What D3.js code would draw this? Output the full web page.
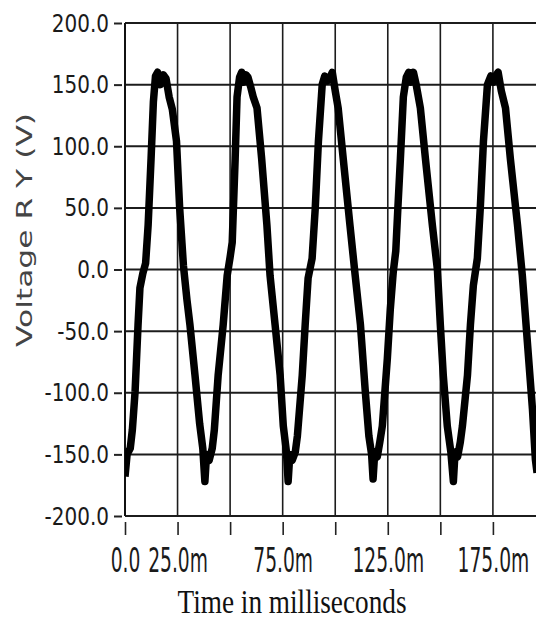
<!DOCTYPE html>
<html>
<head>
<meta charset="utf-8">
<script src="https://cdn.jsdelivr.net/npm/d3@7"></script>
<style>
  body { margin: 0; background: #fff; }
</style>
</head>
<body>
<div id="chart"></div>
<script>
// Axis ticks
const yTicks = [-200, -150, -100, -50, 0, 50, 100, 150, 200];
const xTicks = [0, 25, 50, 75, 100, 125, 150, 175];
const xLabelled = [0, 25, 75, 125, 175]; // 50, 100, 150 have no label

// Trace: [time ms, voltage V]
const trace = [
  [0, -168], [1, -150], [2.5, -145], [3.5, -130], [4.8, -99], [6.2, -45], [7.1, -15],
  [8.5, -3], [9.8, 5], [11, 36], [12.4, 90], [13.5, 136], [14.5, 157], [15.5, 160],
  [16.8, 150], [18.2, 158], [19.5, 155], [21, 140], [22.5, 130], [24.5, 104], [26, 50],
  [27.8, 3], [29.5, -25], [30.9, -45], [33.3, -86], [35.5, -125], [37, -145], [38, -172],
  [38.8, -150], [40, -155], [41.5, -145], [42.5, -130], [44.3, -86], [46.7, -45],
  [48.6, -5], [50, 10], [51, 22], [52.4, 90], [53.3, 140], [54.5, 156],
  [55.5, 160], [56.5, 152], [57.5, 158], [58.5, 156], [59.8, 148], [61, 140], [62.8, 131],
  [65, 90], [67.5, 36], [69, -5], [71.4, -45], [73.8, -86], [75.3, -127], [76.8, -148],
  [77.6, -172], [78.4, -150], [79.5, -155], [81, -148], [82, -135], [84.3, -86],
  [85.7, -45], [87.1, -7], [89, 9], [90.5, 50], [92, 104], [93.8, 150], [95, 157],
  [96.2, 153], [97.5, 156], [98.6, 160], [100, 145], [101.4, 131], [103.8, 90], [107, 36],
  [109.5, -5], [112, -45], [114.3, -99], [116, -135], [117.3, -150], [118, -170],
  [118.8, -148], [120, -152], [121.2, -140], [122.4, -127], [124.8, -72], [126.2, -32],
  [127.6, -2], [128.8, 15], [129.8, 50], [131, 90], [132.4, 140], [133.8, 156], [135, 160],
  [136, 152], [137.2, 160], [138.5, 150], [140.5, 131], [142.9, 90], [146.2, 36],
  [148.6, 0], [150, -45], [151.4, -86], [153.3, -127], [155, -148], [156.2, -172],
  [157, -148], [158.2, -152], [159.5, -140], [160.5, -127], [162.9, -86], [164.3, -45],
  [165.7, -13], [167.6, 9], [169, 50], [170.5, 104], [172.4, 150], [174, 157],
  [175.2, 152], [176.2, 157], [177.5, 160], [179, 145], [181, 131], [183.3, 90],
  [186.7, 36], [189, -5], [191.4, -59], [193.8, -113], [195.2, -154], [196, -165]
];

const width = 536;
const height = 626;
const plotLeft = 125, plotRight = 536, plotTop = 22, plotBottom = 517;

const x = d3.scaleLinear().domain([0, 195.5]).range([plotLeft, plotRight]);
const y = d3.scaleLinear().domain([-200, 200]).range([516, 23]);

const svg = d3
  .select("#chart")
  .append("svg")
  .attr("width", width)
  .attr("height", height);

svg.append("defs").append("clipPath").attr("id", "plot")
  .append("rect")
  .attr("x", plotLeft).attr("y", plotTop)
  .attr("width", plotRight - plotLeft).attr("height", plotBottom - plotTop);

// Grid
svg.append("g")
  .selectAll("line")
  .data(xTicks.slice(1))
  .enter()
  .append("line")
  .attr("x1", (d) => x(d)).attr("x2", (d) => x(d))
  .attr("y1", y(200)).attr("y2", y(-200))
  .attr("stroke", "#1c1c1c")
  .attr("stroke-width", 1.6);

svg.append("g")
  .selectAll("line")
  .data(yTicks)
  .enter()
  .append("line")
  .attr("x1", plotLeft).attr("x2", plotRight)
  .attr("y1", (d) => y(d)).attr("y2", (d) => y(d))
  .attr("stroke", "#1c1c1c")
  .attr("stroke-width", 2);

// Left border
svg.append("line")
  .attr("x1", plotLeft).attr("x2", plotLeft)
  .attr("y1", y(200)).attr("y2", y(-200))
  .attr("stroke", "#111")
  .attr("stroke-width", 2);

// Trace
svg.append("path")
  .datum(trace)
  .attr("clip-path", "url(#plot)")
  .attr("fill", "none")
  .attr("stroke", "#000")
  .attr("stroke-width", 7.5)
  .attr("stroke-linejoin", "round")
  .attr("d", d3.line().x((d) => x(d[0])).y((d) => y(d[1])));

// Y axis
const ySx = 0.8;
const yAxis = svg.append("g")
  .attr("transform", `translate(${plotLeft},0)`)
  .call(d3.axisLeft(y).tickValues(yTicks).tickSize(11).tickPadding(4).tickFormat((d) => d.toFixed(1)));
yAxis.select(".domain").remove();
yAxis.selectAll(".tick line").attr("x1", -3).attr("x2", -11).attr("stroke", "#222").attr("stroke-width", 2);
yAxis.selectAll(".tick text")
  .attr("x", -16 / ySx)
  .attr("transform", `scale(${ySx},1)`)
  .style("font-family", "DejaVu Sans, Verdana, sans-serif")
  .style("font-size", "25px")
  .attr("fill", "#1a1a1a");

// X axis
const xSx = 0.55;
const xAxis = svg.append("g")
  .attr("transform", `translate(0,${plotBottom})`)
  .call(d3.axisBottom(x).tickValues(xTicks).tickSize(18)
    .tickFormat((d) => (xLabelled.includes(d) ? (d === 0 ? "0.0" : d.toFixed(1) + "m") : "")));
xAxis.select(".domain").remove();
xAxis.selectAll(".tick line").attr("y1", 5).attr("y2", 18).attr("stroke", "#222").attr("stroke-width", 1.6);
xAxis.selectAll(".tick text")
  .attr("y", 31)
  .attr("transform", `scale(${xSx},1)`)
  .style("font-family", "DejaVu Sans, Verdana, sans-serif")
  .style("font-size", "34px")
  .attr("fill", "#1a1a1a");

// Axis titles
svg.append("text")
  .attr("transform", "translate(32,230) rotate(-90)")
  .attr("text-anchor", "middle")
  .attr("textLength", 234)
  .attr("lengthAdjust", "spacingAndGlyphs")
  .style("font-family", "DejaVu Sans, Verdana, sans-serif")
  .style("font-size", "22px")
  .attr("fill", "#444")
  .text("Voltage R Y (V)");

svg.append("text")
  .attr("x", 292)
  .attr("y", 613)
  .attr("text-anchor", "middle")
  .attr("textLength", 229)
  .attr("lengthAdjust", "spacingAndGlyphs")
  .style("font-family", "Liberation Serif, Times New Roman, serif")
  .style("font-size", "34px")
  .attr("fill", "#111")
  .text("Time in milliseconds");
</script>
</body>
</html>
